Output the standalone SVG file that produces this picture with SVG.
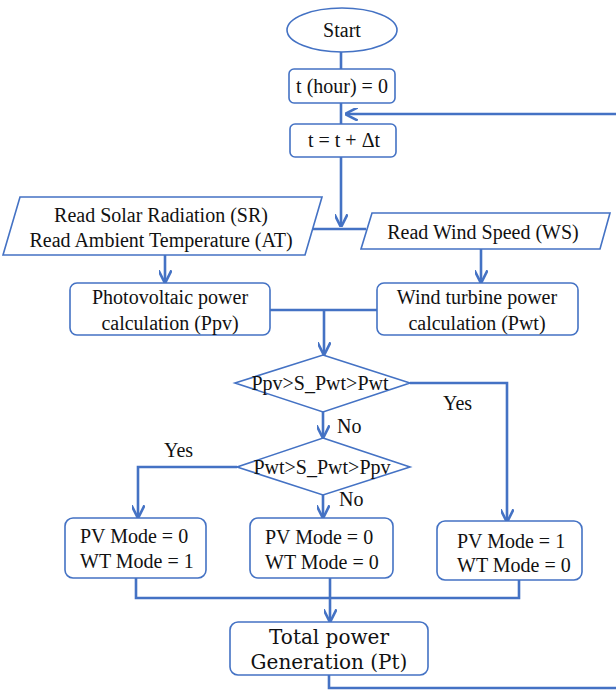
<svg xmlns="http://www.w3.org/2000/svg" width="616" height="693" viewBox="0 0 616 693" font-family="'Liberation Serif', 'Times New Roman', serif" font-size="20">
<defs>
<style>
.s{fill:#fff;stroke:#4472C4;stroke-width:1.6}
.c{fill:none;stroke:#4472C4;stroke-width:2.6}
text{font-family:'Liberation Serif','Times New Roman',serif;font-size:20px;fill:#111}
.m{text-anchor:middle}
.big{font-family:'DejaVu Serif','Liberation Serif',serif;font-size:20px}
</style>
<marker id="ah" viewBox="0 0 10 10" refX="9" refY="5" markerWidth="5" markerHeight="5" orient="auto" markerUnits="strokeWidth">
<path d="M0,0 L10,5 L0,10" fill="none" stroke="#4472C4" stroke-width="2"/>
</marker>
</defs>
<g id="connectors">
<line class="c" x1="341" y1="52" x2="341" y2="69"/>
<line class="c" x1="341" y1="103" x2="341" y2="124"/>
<line class="c" x1="616" y1="114" x2="346" y2="114" marker-end="url(#ah)"/>
<line class="c" x1="341" y1="157" x2="341" y2="226" marker-end="url(#ah)"/>
<line class="c" x1="310" y1="229" x2="366" y2="229"/>
<line class="c" x1="165" y1="255" x2="165" y2="282" marker-end="url(#ah)"/>
<line class="c" x1="481" y1="249" x2="481" y2="282" marker-end="url(#ah)"/>
<line class="c" x1="270" y1="310" x2="377" y2="310"/>
<line class="c" x1="324" y1="310" x2="324" y2="354" marker-end="url(#ah)"/>
<line class="c" x1="323" y1="412" x2="323" y2="437" marker-end="url(#ah)"/>
<polyline class="c" points="410,383 507,383 507,521" marker-end="url(#ah)"/>
<polyline class="c" points="237,467 138,467 138,517" marker-end="url(#ah)"/>
<line class="c" x1="323" y1="495" x2="323" y2="517" marker-end="url(#ah)"/>
<polyline class="c" points="136,578 136,598 519,598 519,580"/>
<line class="c" x1="330" y1="578" x2="330" y2="621" marker-end="url(#ah)"/>
<polyline class="c" points="329,675 329,688 616,688"/>
</g>
<g id="start">
<ellipse class="s" cx="342" cy="30" rx="55" ry="22"/>
<text class="m" x="342" y="37">Start</text>
</g>
<g id="init">
<rect class="s" x="289" y="69" width="106" height="34" rx="5"/>
<text class="m" x="342" y="93">t (hour) = 0</text>
</g>
<g id="step">
<rect class="s" x="290" y="124" width="106" height="33" rx="5"/>
<text class="m" x="344" y="147">t = t + Δt</text>
</g>
<g id="readSolar">
<polygon class="s" points="20,197 322,197 305,255 3,255"/>
<text class="m" x="161" y="222">Read Solar Radiation (SR)</text>
<text class="m" x="161" y="247">Read Ambient Temperature (AT)</text>
</g>
<g id="readWind">
<polygon class="s" points="372,213 610,213 600,249 361,249"/>
<text class="m" x="483" y="239">Read Wind Speed (WS)</text>
</g>
<g id="pvCalc">
<rect class="s" x="70" y="283" width="200" height="52" rx="7"/>
<text class="m" x="170" y="304">Photovoltaic power</text>
<text class="m" x="170" y="330">calculation (Ppv)</text>
</g>
<g id="wtCalc">
<rect class="s" x="377" y="283" width="201" height="52" rx="7"/>
<text class="m" x="477" y="304">Wind turbine power</text>
<text class="m" x="477" y="330">calculation (Pwt)</text>
</g>
<g id="dec1">
<polygon class="s" points="323,355 410,383 323,412 235,383"/>
<text class="m" x="320" y="390">Ppv&gt;S_Pwt&gt;Pwt</text>
</g>
<g id="dec2">
<polygon class="s" points="323,438 410,467 323,495 237,467"/>
<text class="m" x="322" y="474">Pwt&gt;S_Pwt&gt;Ppv</text>
</g>
<g id="labels">
<text x="443" y="410">Yes</text>
<text x="337" y="433">No</text>
<text x="164" y="457">Yes</text>
<text x="339" y="506">No</text>
</g>
<g id="modeWT">
<rect class="s" x="65" y="518" width="141" height="60" rx="8"/>
<text x="80" y="543">PV Mode = 0</text>
<text x="80" y="568">WT Mode = 1</text>
</g>
<g id="modeNone">
<rect class="s" x="250" y="518" width="143" height="60" rx="8"/>
<text x="265" y="544">PV Mode = 0</text>
<text x="265" y="569">WT Mode = 0</text>
</g>
<g id="modePV">
<rect class="s" x="437" y="521" width="145" height="59" rx="8"/>
<text x="457" y="548">PV Mode = 1</text>
<text x="457" y="572">WT Mode = 0</text>
</g>
<g id="total">
<rect class="s" x="230" y="622" width="198" height="53" rx="8"/>
<text class="m big" x="329" y="644">Total power</text>
<text class="m big" x="329" y="669">Generation (Pt)</text>
</g>
</svg>
